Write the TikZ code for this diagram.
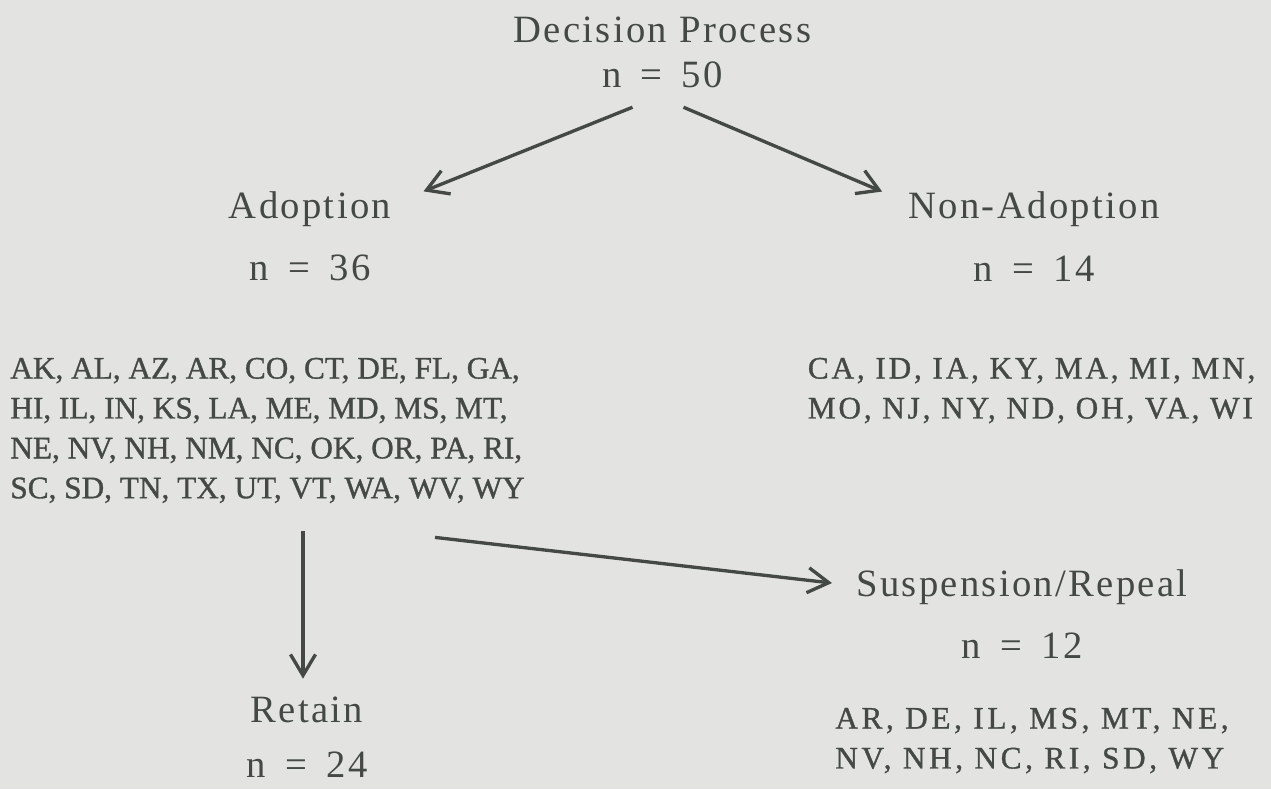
\documentclass[tikz,border=0pt]{standalone}
\usepackage{fontspec}
\setmainfont{Liberation Serif}
\newfontfamily\headfont[LetterSpace=6]{Liberation Serif}
\newfontfamily\listfont[FakeBold=1]{Liberation Serif}
\usetikzlibrary{arrows.meta}
\usetikzlibrary{calc}
\definecolor{ink}{HTML}{444946}
\definecolor{paper}{HTML}{E3E4E2}

\begin{document}
\begin{tikzpicture}[
  head/.style={text=ink, align=center, inner sep=0pt,
    font=\headfont\fontsize{22}{25.5}\selectfont},
  states/.style={text=ink, align=left, inner sep=0pt, anchor=north west,
    font=\listfont\fontsize{17.8}{22.7}\selectfont},
  wide/.style={font=\listfont\fontsize{17.8}{22.7}\selectfont\addfontfeature{LetterSpace=#1}},
  arr/.style={draw=ink, line width=1.9pt,
    -{Straight Barb[length=0.42cm,width=0.5cm,line width=1.9pt]}}
]
\fill[paper] (0,0) rectangle (25.42,-15.78);
\useasboundingbox (0,0) rectangle (25.42,-15.78);

\node[head] (root) at (13.25,-1.05) {Decision Process\\n\enspace=\enspace50};
\node[head] (adopt) at (6.2,-4.73) {Adoption\\[10pt]n\enspace=\enspace36};
\node[head] (nonadopt) at (20.68,-4.73) {Non-Adoption\\[10pt]n\enspace=\enspace14};
\node[head] (susp) at (20.44,-12.28) {Suspension/Repeal\\[10pt]n\enspace=\enspace12};
\node[head] (retain) at (6.14,-14.75) {Retain\\[6pt]n\enspace=\enspace24};

\node[states] (adlist) at (0.2,-7.15) {AK, AL, AZ, AR, CO, CT, DE, FL, GA,\\
  HI, IL, IN, KS, LA, ME, MD, MS, MT,\\
  NE, NV, NH, NM, NC, OK, OR, PA, RI,\\
  SC, SD, TN, TX, UT, VT, WA, WV, WY};
\node[states, wide=9] (nonlist) at (16.15,-7.15) {CA, ID, IA, KY, MA, MI, MN,\\
  MO, NJ, NY, ND, OH, VA, WI};
\node[states, wide=11.5] (suslist) at (16.7,-14.15) {AR, DE, IL, MS, MT, NE,\\
  NV, NH, NC, RI, SD, WY};

\draw[arr] ([xshift=-0.6cm,yshift=-0.38cm]root.south) -- ([xshift=0.64cm]adopt.north east);
\draw[arr] ([xshift=0.42cm,yshift=-0.38cm]root.south) -- ([xshift=-0.52cm]nonadopt.north west);
\draw[arr] ($(retain.north |- adlist.south)+(-0.08,-0.55)$) -- ([xshift=-0.08cm,yshift=0.36cm]retain.north);
\draw[arr] ([xshift=-1.8cm,yshift=-0.68cm]adlist.south east) -- ([xshift=-0.48cm,yshift=-0.28cm]susp.north west);
\end{tikzpicture}
\end{document}
